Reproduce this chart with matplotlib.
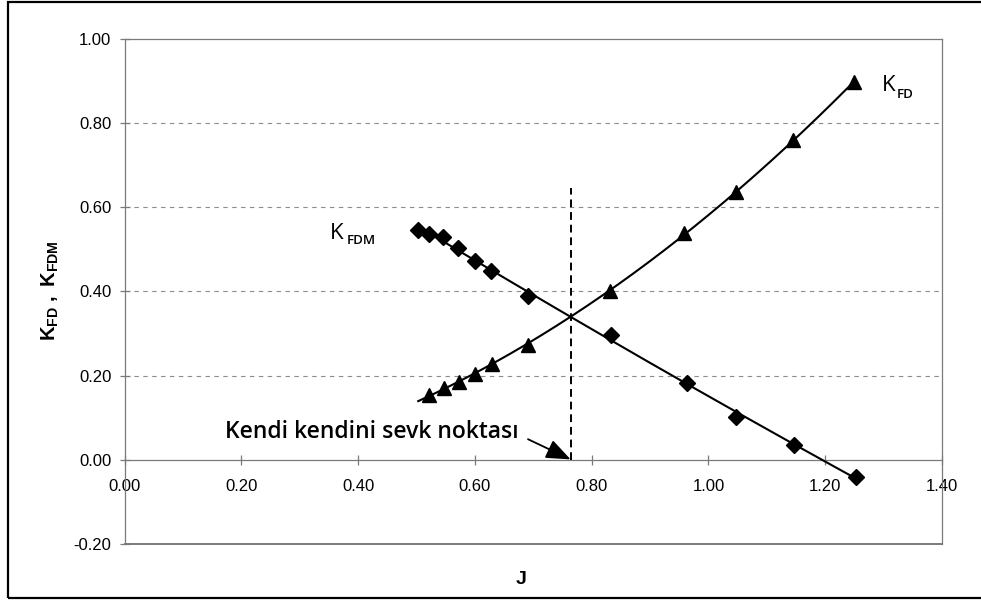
import numpy as np
import matplotlib
matplotlib.use("Agg")
import matplotlib.pyplot as plt
from matplotlib.patches import Rectangle, FancyArrowPatch

# ---- data ----
J_FDM = [0.503, 0.521, 0.546, 0.571, 0.600, 0.628, 0.691, 0.833, 0.964, 1.047, 1.147, 1.253]
K_FDM = [0.547, 0.536, 0.530, 0.504, 0.473, 0.449, 0.390, 0.296, 0.183, 0.102, 0.035, -0.040]

J_FD = [0.522, 0.548, 0.572, 0.600, 0.629, 0.691, 0.831, 0.959, 1.047, 1.145, 1.250]
K_FD = [0.154, 0.170, 0.185, 0.205, 0.227, 0.274, 0.402, 0.538, 0.637, 0.760, 0.898]

J_SELF = 0.764          # self-propulsion point
K_SELF_TOP = 0.645      # top of the dashed marker line

X_TICKS = [0.0, 0.2, 0.4, 0.6, 0.8, 1.0, 1.2, 1.4]
Y_TICKS = [-0.2, 0.0, 0.2, 0.4, 0.6, 0.8, 1.0]
GRID_Y = [0.2, 0.4, 0.6, 0.8]

X_LABEL = "J"
ANNOT_TEXT = "Kendi kendini sevk noktası"

plt.rcParams["mathtext.default"] = "regular"

W, H = 981, 600
fig = plt.figure(figsize=(W / 100, H / 100), dpi=100)
fig.patch.set_facecolor("white")

L, R, T, B = 124.5, 942.0, 39.0, 544.0
ax = fig.add_axes([L / W, 1 - B / H, (R - L) / W, (B - T) / H])
ax.set_xlim(0, 1.4)
ax.set_ylim(-0.2, 1.0)

gray = "#7a7a7a"
for s in ax.spines.values():
    s.set_color(gray)
    s.set_linewidth(0.9)
ax.spines["bottom"].set_position(("data", 0))
ax.axhline(-0.2, color=gray, lw=1.4, clip_on=False, zorder=1)

for gy in GRID_Y:
    ax.axhline(gy, color="#8c8c8c", lw=0.8, ls=(0, (4, 4)), zorder=1)

ax.set_xticks(X_TICKS)
ax.set_xticklabels([f"{v:.2f}" for v in X_TICKS], family="Liberation Sans", fontsize=12)
ax.set_yticks(Y_TICKS)
ax.set_yticklabels([f"{v:.2f}" for v in Y_TICKS], family="Liberation Sans", fontsize=12)
ax.tick_params(axis="both", direction="inout", length=7, width=0.9, color=gray)
ax.tick_params(axis="x", pad=10)
ax.tick_params(axis="y", pad=6)

# trend lines (quadratic fits of the data)
xs_fdm = np.linspace(min(J_FDM), max(J_FDM), 200)
ax.plot(xs_fdm, np.polyval(np.polyfit(J_FDM, K_FDM, 2), xs_fdm), color="black", lw=1.5, zorder=3)
xs_fd = np.linspace(min(J_FDM), max(J_FD), 200)
ax.plot(xs_fd, np.polyval(np.polyfit(J_FD, K_FD, 2), xs_fd), color="black", lw=1.5, zorder=3)

ax.plot(J_FDM, K_FDM, ls="none", marker="D", ms=8.5, color="black", zorder=4)
ax.plot(J_FD, K_FD, ls="none", marker="^", ms=10.5, color="black", zorder=4)

# self-propulsion dashed line
ax.plot([J_SELF, J_SELF], [0.0, K_SELF_TOP], color="black", lw=1.4, ls=(0, (4, 2.5)), zorder=3)

# annotation
ax.text(0.172, 0.066, ANNOT_TEXT, family="Open Sans", fontweight="semibold",
        fontsize=16.5, ha="left", va="center")
arr = FancyArrowPatch((0.691, 0.049), (J_SELF, 0.001),
                      arrowstyle="-|>,head_length=1.0,head_width=0.4",
                      mutation_scale=15, color="black", lw=1.3,
                      shrinkA=0, shrinkB=0, clip_on=False, zorder=5)
ax.add_patch(arr)

# series labels
ax.text(1.2966, 0.890, "K", family="Open Sans", fontsize=16, ha="left", va="center")
ax.text(1.3223, 0.868, "FD", family="Open Sans", fontweight="semibold", fontsize=9.5, ha="left", va="center")
ax.text(0.352, 0.539, "K", family="Open Sans", fontsize=16, ha="left", va="center")
ax.text(0.381, 0.520, "FDM", family="Open Sans", fontweight="semibold", fontsize=9.5, ha="left", va="center")

# axis titles
fig.text(520.7 / W, 1 - 579 / H, X_LABEL, family="Liberation Sans", fontweight="bold",
         fontsize=14, ha="center", va="center")
fig.text(50 / W, 1 - 291 / H, r"$K_{FD}\;,\;K_{FDM}$", family="Liberation Sans",
         fontweight="bold", fontsize=14.5, rotation=90, ha="center", va="center")

# outer frame
fig.add_artist(Rectangle((8 / W, 2 / H), 1.2, 1 - 4 / H, transform=fig.transFigure,
                         fill=False, edgecolor="black", lw=1.6, clip_on=False))

fig.savefig("out.png", dpi=100)
